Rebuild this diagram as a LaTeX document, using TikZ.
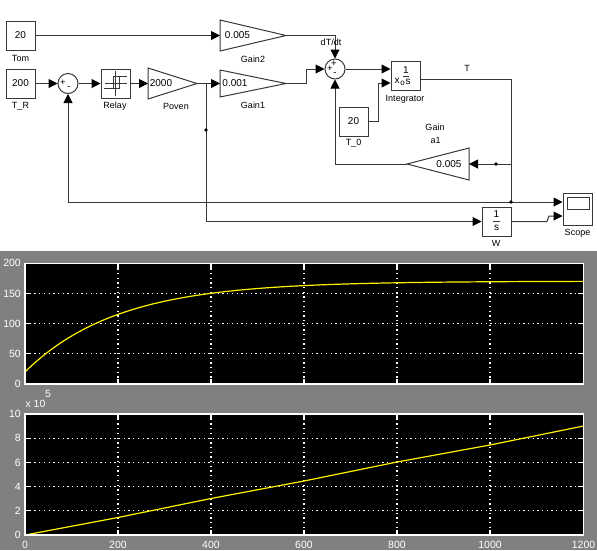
\documentclass[tikz,border=0pt]{standalone}
\usepackage{fontspec}
\setmainfont{Liberation Sans}
\usetikzlibrary{arrows.meta}
\definecolor{ln}{gray}{0.22}
\definecolor{panel}{gray}{0.5}
\tikzset{
  blk/.style={draw=ln,line width=1pt,fill=white,minimum width=29pt,minimum height=29pt,inner sep=0pt,font=\fontsize{10}{11}\selectfont},
  gainshape/.style={draw=ln,line width=1pt,fill=white,line join=miter},
  sumblk/.style={circle,draw=ln,line width=1pt,minimum size=20pt,inner sep=0pt},
  lab/.style={inner sep=0pt,text=black,font=\fontsize{9}{10}\selectfont},
  val/.style={inner sep=0pt,text=black,font=\fontsize{10}{11}\selectfont},
  sgn/.style={inner sep=0pt,font=\fontsize{9.5}{10}\selectfont},
  wire/.style={draw=ln,line width=1pt},
  arr/.style={wire,-{Triangle[length=9pt,width=9pt,color=black]}},
  dotj/.style={circle,fill=black,minimum size=3.6pt,inner sep=0pt},
  grid/.style={white,line width=1.1pt,dash pattern=on 1.3pt off 3.4pt},
  tick/.style={white,line width=1.1pt},
  axlab/.style={inner sep=0pt,text=white,font=\fontsize{10.5}{12}\selectfont},
  curve/.style={yellow,line width=1.2pt,line join=round}
}
\begin{document}
\begin{tikzpicture}[x=1pt,y=-1pt]
\useasboundingbox (0,0) rectangle (597,550);
\fill[white] (0,0) rectangle (597,251);
\fill[panel] (0,251) rectangle (597,550);

% blocks
\node[blk] (tom) at (20.5,35.5) {20};
\node[blk] (tr) at (20.5,83.5) {200};
\node[blk] (relay) at (115.5,83.5) {};
\node[blk] (integ) at (405.5,76) {};
\node[blk] (t0) at (353.5,121.5) {20};
\node[blk] (wblk) at (496.5,221.5) {};
\node[blk,minimum height=32pt] (scope) at (577.5,209) {};
\node[sumblk] (s1) at (68,83.5) {};
\node[sumblk] (s2) at (335,69) {};

% gain triangles
\draw[gainshape] (148,68) -- (197,83.5) -- (148,99) -- cycle;
\draw[gainshape] (220,20) -- (286,35.5) -- (220,51) -- cycle;
\draw[gainshape] (220,70) -- (286,83.5) -- (220,97) -- cycle;
\draw[gainshape] (469,148) -- (407,164) -- (469,180) -- cycle;
\coordinate (povin) at (148,83.5); \coordinate (povout) at (197,83.5);
\coordinate (g2in) at (220,35.5); \coordinate (g2out) at (286,35.5);
\coordinate (g1in) at (220,83.5); \coordinate (g1out) at (286,83.5);
\coordinate (a1in) at (469,164); \coordinate (a1out) at (407,164);
\coordinate (jp) at (206,83.5);
\coordinate (jt) at (511,164);
\coordinate (jb) at (511,202);

% connectors
\draw[arr] (tom.east) -- (g2in);
\draw[arr] (g2out) -- (335,35.5) -- (s2.north);
\draw[arr] (tr.east) -- (s1.west);
\draw[arr] (s1.east) -- (relay.west);
\draw[arr] (relay.east) -- (povin);
\draw[arr] (povout) -- (g1in);
\draw[arr] (g1out) -- (306,83.5) -- (306,69) -- (s2.west);
\draw[arr] (s2.east) -- (integ.west |- s2.east);
\draw[arr] (t0.east) -- (378,121.5) -- (378,83) -- (integ.west |- 0,83);
\draw[wire] (integ.east |- 0,79) -- (511,79) -- (jb);
\draw[arr] (jt) -- (a1in);
\draw[arr] (a1out) -- (335,164) -- (s2.south);
\draw[arr] (jb -| s1.south) -- (s1.south);
\draw[arr] (jb -| s1.south) -- (scope.west |- jb);
\draw[arr] (jp) -- (206,221.5) -- (wblk.west |- 0,221.5);
\draw[arr] (wblk.east |- 0,221.5) -- (547,221.5) -- (549,216) -- (scope.west |- 0,216);

% junction dots
\node[dotj] (d1) at (206,130) {};
\node[dotj] (d2) at (496,164) {};
\node[dotj] (d3) at (jb) {};

% gain values
\node[val] (v1) at (237.5,35.5) {0.005};
\node[val] (v2) at (235,83) {0.001};
\node[val] (v3) at (161,83) {2000};
\node[val] (v4) at (449,164) {0.005};

% labels
\node[lab] (l1) at (20.5,58) {Tom};
\node[lab] (l2) at (20.5,106) {T\_R};
\node[lab] (l3) at (115,106) {Relay};
\node[lab] (l4) at (176,106.5) {Poven};
\node[lab] (l5) at (253,59) {Gain2};
\node[lab] (l6) at (253,105) {Gain1};
\node[lab] (l7) at (331,42) {dT/dt};
\node[lab] (l8) at (467,68.5) {T};
\node[lab] (l9) at (405,99) {Integrator};
\node[lab] (l10) at (435,127) {Gain};
\node[lab] (l11) at (435.5,140) {a1};
\node[lab] (l12) at (353.5,143) {T\_0};
\node[lab] (l13) at (496,243) {W};
\node[lab] (l14) at (577.5,233) {Scope};

% sum signs
\node[sgn] (p1) at (63,83) {+};
\node[sgn] (m1) at (69,88.5) {-};
\node[sgn] (p2) at (334,64) {+};
\node[sgn] (p3) at (330,69) {+};
\node[sgn] (m2) at (335,74) {-};

% integrator face
\node[val] (i1) at (406,70) {1};
\draw[ln,line width=0.9pt] (403,76) -- (409,76);
\node[val] (i2) at (397,80.5) {x};
\node[inner sep=0pt,text=black,font=\fontsize{8}{9}\selectfont] (i3) at (402.5,83.5) {o};
\node[val] (i4) at (408,82) {s};

% W face
\node[val] (w1) at (496.5,214.5) {1};
\draw[ln,line width=0.9pt] (493,221) -- (500,221);
\node[val] (w2) at (496.5,228) {s};

% relay icon
\draw[ln,line width=0.8pt] (115.5,71) -- (115.5,96);
\draw[ln,line width=0.8pt] (105,83.5) -- (127,83.5);
\draw[ln,line width=0.8pt] (104,88) -- (119,88) -- (119,76) -- (127,76);
\draw[ln,line width=0.8pt] (119,76) -- (113,76) -- (113,88);

% scope screen
\draw[ln,line width=0.9pt] (567,197) rectangle (589,209);

% plot 1
\fill[black] (25,263.5) rectangle (583.5,384);
\foreach \gx in {118,211,304,397,490}{
  \draw[grid] (\gx,263.5) -- (\gx,384);
  \draw[tick] (\gx,263.5) -- (\gx,269);
  \draw[tick] (\gx,384) -- (\gx,378.5);
}
\foreach \gy in {293.5,323.5,353.5}{
  \draw[grid] (25,\gy) -- (583.5,\gy);
  \draw[tick] (25,\gy) -- (31,\gy);
  \draw[tick] (583.5,\gy) -- (577.5,\gy);
}
\draw[curve] plot[domain=0:1200,samples=90,smooth] ({25+\x*0.465},{384-(170-150*exp(-\x/199))*0.605});
\draw[white,line width=1.1pt] (25,263.5) rectangle (583.5,384);

% plot 2
\fill[black] (25,414) rectangle (583.5,535);
\foreach \gx in {118,211,304,397,490}{
  \draw[grid] (\gx,414) -- (\gx,535);
  \draw[tick] (\gx,414) -- (\gx,419.5);
  \draw[tick] (\gx,535) -- (\gx,529.5);
}
\foreach \gy in {438.2,462.4,486.6,510.8}{
  \draw[grid] (25,\gy) -- (583.5,\gy);
  \draw[tick] (25,\gy) -- (31,\gy);
  \draw[tick] (583.5,\gy) -- (577.5,\gy);
}
\draw[curve] (25,535) -- (118,517.5) -- (211,498.5) -- (304,481) -- (397,462) -- (490,445) -- (583.5,426);
\draw[white,line width=1.1pt] (25,414) rectangle (583.5,535);

% axis labels
\foreach \ty/\tt in {263/200,293.5/150,323.5/100,353.5/50,384/0}{
  \node[axlab,anchor=east] at (21,\ty) {\tt};
}
\foreach \ty/\tt in {414/10,438.2/8,462.4/6,486.6/4,510.8/2,535/0}{
  \node[axlab,anchor=east] at (21,\ty) {\tt};
}
\foreach \tx/\tt in {25/0,118/200,211/400,304/600,397/800,490/1000,583.5/1200}{
  \node[axlab] at (\tx,545) {\tt};
}
\node[axlab] at (35.5,404) {x 10};
\node[axlab] at (48,393.5) {5};
\end{tikzpicture}
\end{document}
